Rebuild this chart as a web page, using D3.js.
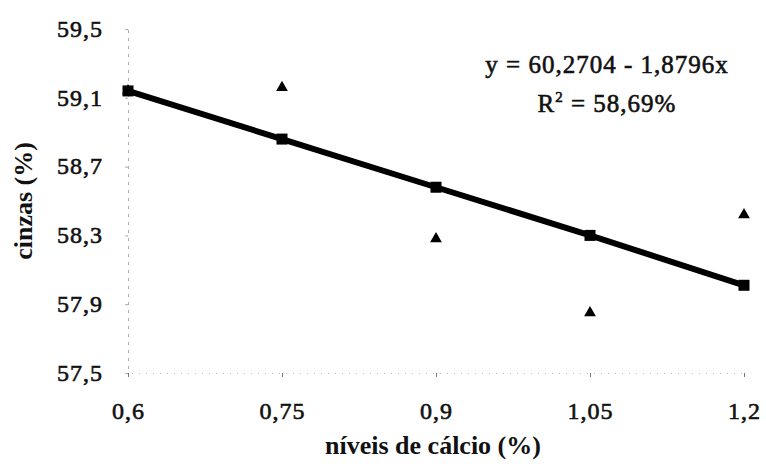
<!DOCTYPE html>
<html>
<head>
<meta charset="utf-8">
<script src="https://cdn.jsdelivr.net/npm/d3@7"></script>
<style>
  body { margin: 0; background: #fff; }
  text { font-family: "Liberation Serif", "DejaVu Serif", serif; fill: #111; }
</style>
</head>
<body>
<svg id="chart"></svg>
<script>
// cálcio levels (x) and observed ash values (triangles)
const niveis = [0.6, 0.75, 0.9, 1.05, 1.2];
const cinzas = [59.14, 59.16, 58.28, 57.85, 58.42];
// fitted values of y = 60,2704 - 1,8796x (squares on the line)
const ajustado = [59.14, 58.86, 58.58, 58.30, 58.01];
const yTicks = [57.5, 57.9, 58.3, 58.7, 59.1, 59.5];
const eqLines = ['y = 60,2704 - 1,8796x', 'R|2| = 58,69%'];

const width = 766;
const height = 470;
const margin = { top: 29, right: 22, bottom: 97, left: 128 };

const svg = d3.select('#chart')
  .attr('width', width)
  .attr('height', height);

const x = d3.scaleLinear()
  .domain([0.6, 1.2])
  .range([margin.left, width - margin.right]);

const y = d3.scaleLinear()
  .domain([57.5, 59.5])
  .range([height - margin.bottom, margin.top]);

const fmt = d => String(d).replace('.', ',');

// heavier, slightly wider type, like the scanned figure
const heavy = sel => sel
  .attr('stroke', '#111')
  .attr('stroke-width', 0.6)
  .style('letter-spacing', '1px');

// Axes (faint, as in the scan)
const xAxis = svg.append('g')
  .attr('transform', `translate(0,${y(57.5)})`)
  .call(d3.axisBottom(x).tickValues(niveis).tickFormat(fmt).tickSize(4).tickPadding(25));
xAxis.select('.domain').attr('stroke', '#bbb').attr('stroke-dasharray', '1,6');
xAxis.selectAll('.tick line').attr('stroke', '#777');
xAxis.selectAll('text').style('font-size', '24px').attr('fill', '#111').call(heavy);

const yAxis = svg.append('g')
  .attr('transform', `translate(${margin.left},0)`)
  .call(d3.axisLeft(y).tickValues(yTicks).tickFormat(fmt).tickSize(3).tickPadding(22));
yAxis.select('.domain').attr('stroke', '#aaa').attr('stroke-dasharray', '3,5');
yAxis.selectAll('.tick line').attr('stroke', '#aaa');
yAxis.selectAll('text').style('font-size', '24px').attr('fill', '#111').attr('dy', '0.3em').call(heavy);

// Regression line
svg.append('path')
  .datum(niveis.map((v, i) => [v, ajustado[i]]))
  .attr('fill', 'none')
  .attr('stroke', '#000')
  .attr('stroke-width', 6)
  .attr('d', d3.line().x(d => x(d[0])).y(d => y(d[1])));

svg.selectAll('rect.fit')
  .data(niveis)
  .join('rect')
  .attr('class', 'fit')
  .attr('x', (d, i) => x(d) - 5.5)
  .attr('y', (d, i) => y(ajustado[i]) - 5.5)
  .attr('width', 11)
  .attr('height', 11)
  .attr('fill', '#000');

// Observed points
svg.selectAll('path.obs')
  .data(niveis)
  .join('path')
  .attr('class', 'obs')
  .attr('transform', (d, i) => `translate(${x(d)},${y(cinzas[i])})`)
  .attr('d', d3.symbol(d3.symbolTriangle, 60))
  .attr('fill', '#000');

// Equation
const eq = svg.append('g').attr('transform', 'translate(607,0)');
eq.append('text')
  .attr('y', 73)
  .attr('text-anchor', 'middle')
  .style('font-size', '25px')
  .call(heavy)
  .text(eqLines[0]);
const r2 = eq.append('text')
  .attr('y', 112)
  .attr('text-anchor', 'middle')
  .style('font-size', '25px')
  .call(heavy);
eqLines[1].split('|').forEach((part, i) => {
  const t = r2.append('tspan').text(part);
  if (i === 1) t.attr('dy', '-10').style('font-size', '15px');
  if (i === 2) t.attr('dy', '10');
});

// Axis titles
svg.append('text')
  .attr('x', 433)
  .attr('y', 454)
  .attr('text-anchor', 'middle')
  .style('font-size', '26px')
  .style('font-weight', 'bold')
  .text('níveis de cálcio (%)');

svg.append('text')
  .attr('transform', 'translate(32,201) rotate(-90)')
  .attr('text-anchor', 'middle')
  .style('font-size', '26px')
  .style('font-weight', 'bold')
  .text('cinzas (%)');
</script>
</body>
</html>
